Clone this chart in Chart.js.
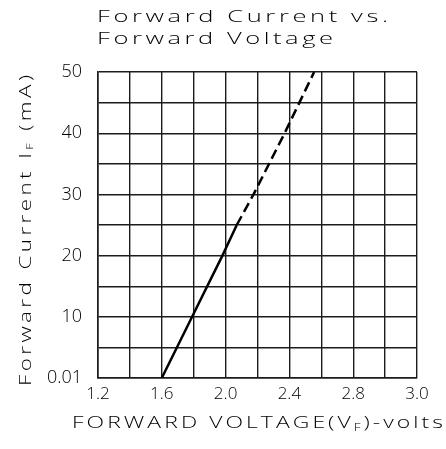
<!DOCTYPE html>
<html>
<head>
<meta charset="utf-8">
<script src="https://cdn.jsdelivr.net/npm/chart.js@4.4.0/dist/chart.umd.min.js"></script>
<style>
  html, body { margin: 0; padding: 0; background: #fff; }
  canvas { display: block; }
</style>
</head>
<body>
<canvas id="ifvf" width="446" height="449"></canvas>
<script>
// axis labels as printed on the sheet (last column is labelled 3.0)
var xTickLabels = ['1.2', '', '1.6', '', '2.0', '', '2.4', '', '2.8', '', '3.0'];
var yTickLabels = ['0.01', '', '10', '', '20', '', '30', '', '40', '', '50'];

// rated part of the curve (solid)
var solidVolts = [1.6, 1.79, 1.98, 2.07];
var solidCurrent = [0.01, 10, 20, 25];
// extrapolated part (dashed)
var dashVolts = [2.07, 2.175, 2.37, 2.555];
var dashCurrent = [25, 30, 40, 50];

var gridColor = '#1c1c1c';
var txtFont = '"Open Sans", "DejaVu Sans", sans-serif';

function toPoints(xs, ys) {
    return xs.map(function (x, i) { return { x: x, y: ys[i] }; });
}

// draws a run of pieces, glyphs widened a bit (plotter style) and spread to fill the width
function spreadText(ctx, pieces, x, y, width, stretch) {
    var chars = [];
    pieces.forEach(function (p) {
        p.text.split('').forEach(function (c) {
            chars.push({ c: c, size: p.size, dy: p.dy || 0 });
        });
    });
    var natural = 0;
    chars.forEach(function (ch) {
        ctx.font = '300 ' + ch.size + 'px ' + txtFont;
        ch.w = ctx.measureText(ch.c).width * stretch;
        natural += ch.w;
    });
    var gap = (width - natural) / (chars.length - 1);
    chars.forEach(function (ch) {
        ctx.font = '300 ' + ch.size + 'px ' + txtFont;
        ctx.save();
        ctx.translate(x, y + ch.dy);
        ctx.scale(stretch, 1);
        ctx.fillText(ch.c, 0, 0);
        ctx.restore();
        x += ch.w + gap;
    });
}

var sheetText = {
    id: 'sheetText',
    afterDraw: function (chart) {
        var ctx = chart.ctx;
        ctx.save();
        ctx.fillStyle = '#000';
        ctx.textBaseline = 'alphabetic';
        ctx.textAlign = 'left';
        spreadText(ctx, [{ text: 'Forward Current vs.', size: 17 }], 97, 22, 291, 1.5);
        spreadText(ctx, [{ text: 'Forward Voltage', size: 17 }], 97, 44, 236, 1.5);
        spreadText(ctx, [
            { text: 'FORWARD VOLTAGE(V', size: 17 },
            { text: 'F', size: 10, dy: 3 },
            { text: ')-volts', size: 17 }
        ], 72, 428, 371, 1.35);

        ctx.translate(31, 386);
        ctx.rotate(-Math.PI / 2);
        spreadText(ctx, [
            { text: 'Forward Current I', size: 16 },
            { text: 'F', size: 9, dy: 2 },
            { text: ' (mA)', size: 16 }
        ], 0, 0, 311, 1.4);
        ctx.restore();
    }
};

var ctx = document.getElementById('ifvf').getContext('2d');
var chart = new Chart(ctx, {
    type: 'line',
    data: {
        datasets: [{
            data: toPoints(solidVolts, solidCurrent),
            borderColor: '#000',
            borderWidth: 2.5,
            pointRadius: 0,
            tension: 0
        }, {
            data: toPoints(dashVolts, dashCurrent),
            borderColor: '#000',
            borderWidth: 2.5,
            borderDash: [10, 5],
            pointRadius: 0,
            tension: 0
        }]
    },
    options: {
        responsive: false,
        animation: false,
        layout: {
            padding: { top: 72, right: 29, left: 0, bottom: 0 }
        },
        plugins: {
            legend: { display: false },
            title: { display: false },
            tooltip: { enabled: false }
        },
        scales: {
            x: {
                type: 'linear',
                min: 1.2,
                max: 3.2,
                afterFit: function (scale) { scale.height = 71; },
                ticks: {
                    stepSize: 0.2,
                    autoSkip: false,
                    maxRotation: 0,
                    padding: 6,
                    color: '#000',
                    font: { family: txtFont, size: 17, weight: 300 },
                    callback: function (value, index) { return xTickLabels[index]; }
                },
                grid: { color: gridColor, lineWidth: 1.4, drawTicks: false },
                border: { color: gridColor, width: 1.6 }
            },
            y: {
                min: 0,
                max: 50,
                afterFit: function (scale) { scale.width = 98; },
                ticks: {
                    stepSize: 5,
                    autoSkip: false,
                    padding: 16,
                    color: '#000',
                    font: { family: txtFont, size: 18, weight: 300 },
                    callback: function (value, index) { return yTickLabels[index]; }
                },
                grid: { color: gridColor, lineWidth: 1.4, drawTicks: false },
                border: { color: gridColor, width: 1.6 }
            }
        }
    },
    plugins: [sheetText]
});
</script>
</body>
</html>
